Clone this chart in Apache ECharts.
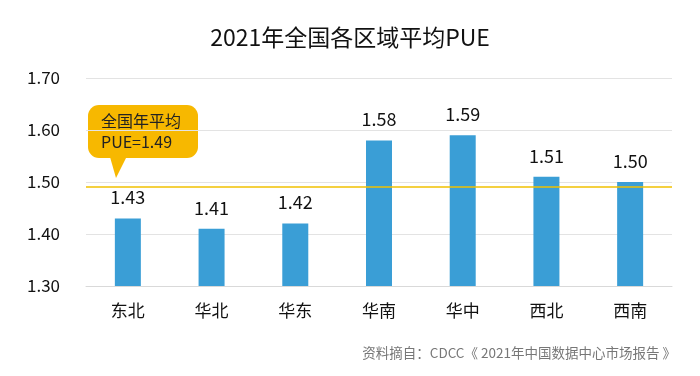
<!DOCTYPE html>
<html>
<head>
<meta charset="utf-8">
<script src="https://cdn.jsdelivr.net/npm/echarts@6/dist/echarts.min.js"></script>
<style>
html, body { margin: 0; padding: 0; background: #fff; }
#chart { width: 700px; height: 376px; }
</style>
</head>
<body>
<div id="chart"></div>
<script>
// 各区域平均PUE
const regions = ['东北', '华北', '华东', '华南', '华中', '西北', '西南']
const pueValues = [1.43, 1.41, 1.42, 1.58, 1.59, 1.51, 1.50]
const nationalAvg = 1.49

const font = '"Microsoft YaHei", "Noto Sans CJK SC", sans-serif'

const chart = echarts.init(document.getElementById('chart'))
const option = {
  animation: false,
  title: {
    text: '2021年全国各区域平均PUE',
    left: 'center',
    top: 21,
    textStyle: { fontFamily: font, fontSize: 23, fontWeight: 'normal', color: '#111' }
  },
  grid: { left: 86, right: 28, top: 78, bottom: 90 },
  xAxis: {
    type: 'category',
    data: regions,
    axisLine: { lineStyle: { color: '#d9d9d9', width: 1 } },
    axisTick: { show: false },
    axisLabel: { fontFamily: font, fontSize: 17, color: '#111', margin: 16 }
  },
  yAxis: {
    type: 'value',
    min: 1.3,
    max: 1.7,
    interval: 0.1,
    axisLine: { show: false },
    axisTick: { show: false },
    splitLine: { lineStyle: { color: '#e3e3e3' } },
    axisLabel: {
      fontFamily: font, fontSize: 17, color: '#111', margin: 26,
      formatter: v => v.toFixed(2)
    }
  },
  series: [{
    type: 'bar',
    data: pueValues,
    barWidth: 26,
    itemStyle: { color: '#3a9ed6' },
    label: {
      show: true,
      position: 'top',
      distance: 12,
      fontFamily: font,
      fontSize: 18,
      color: '#111',
      formatter: p => p.value.toFixed(2)
    },
    markLine: {
      silent: true,
      symbol: 'none',
      label: { show: false },
      lineStyle: { color: '#f0c000', width: 1.5, type: 'solid' },
      data: [{ yAxis: nationalAvg }]
    }
  }],
  graphic: [
    {
      type: 'polygon',
      shape: { points: [[108, 150], [130, 150], [116, 178]] },
      style: { fill: '#f7b800' }
    },
    {
      type: 'rect',
      left: 88,
      top: 105,
      shape: { width: 110, height: 53, r: 11 },
      style: { fill: '#f7b800' }
    },
    {
      type: 'text',
      left: 101,
      top: 110,
      style: {
        text: '全国年平均\nPUE=' + nationalAvg.toFixed(2),
        fontFamily: font,
        fontSize: 16,
        lineHeight: 21,
        fill: '#222'
      }
    },
    {
      type: 'text',
      right: 24,
      top: 346,
      style: {
        text: '资料摘自：CDCC《 2021年中国数据中心市场报告 》',
        fontFamily: font,
        fontSize: 13.5,
        fill: '#777'
      }
    }
  ]
}
chart.setOption(option)
</script>
</body>
</html>
